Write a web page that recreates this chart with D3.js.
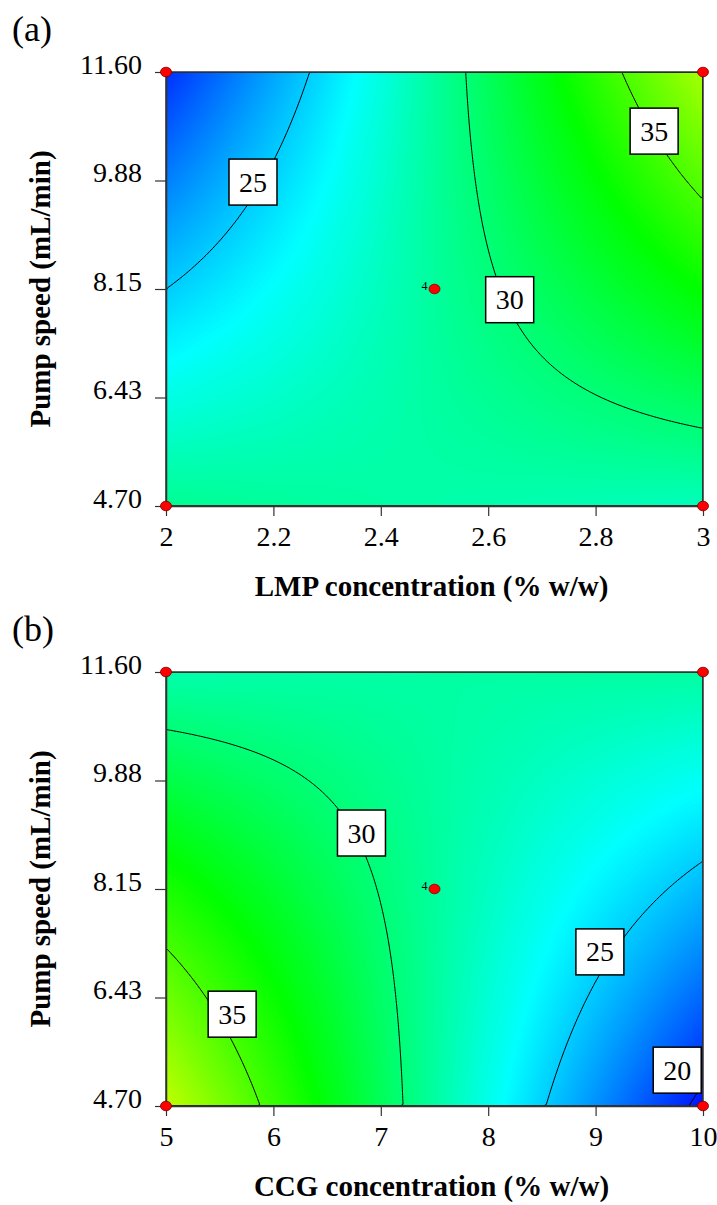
<!DOCTYPE html>
<html>
<head>
<meta charset="utf-8">
<script src="https://cdn.jsdelivr.net/npm/d3@7"></script>
<style>
  body { margin: 0; background: #fff; }
  text { font-family: "Liberation Serif", "Times New Roman", serif; fill: #000; }
</style>
</head>
<body>
<div id="chart"></div>
<script>
// Factor levels (low, centre, high)
const lmpLevels = [2, 2.5, 3];
const ccgLevels = [5, 7.5, 10];
const pumpLevels = [4.70, 8.15, 11.60];

// Predicted response at the factor levels
// rows = pump speed low -> high, columns = concentration low -> high
const responseA = [
  [29.3, 28.7, 28.2],
  [25.0, 29.0, 33.1],
  [20.4, 29.0, 37.6]
];
const responseB = [
  [38.3, 28.9, 19.5],
  [33.7, 29.0, 24.4],
  [28.6, 28.8, 28.9]
];

// Ticks
const lmpTicks = [2, 2.2, 2.4, 2.6, 2.8, 3];
const ccgTicks = [5, 6, 7, 8, 9, 10];
const pumpTicks = [4.70, 6.425, 8.15, 9.875, 11.60];
const pumpTickLabels = ["4.70", "6.43", "8.15", "9.88", "11.60"];

// Contour levels and label spots (concentration, pump speed)
const contourLevels = [20, 25, 30, 35];
const labelsA = [
  { level: 25, x: 2.162, y: 9.85 },
  { level: 30, x: 2.64, y: 7.98 },
  { level: 35, x: 2.909, y: 10.66 }
];
const labelsB = [
  { level: 30, x: 6.82, y: 9.04 },
  { level: 35, x: 5.616, y: 6.16 },
  { level: 25, x: 9.04, y: 7.15 },
  { level: 20, x: 9.76, y: 5.27 }
];
const centreReplicates = 4;

const svg = d3.select("#chart").append("svg")
    .attr("width", 717)
    .attr("height", 1205);

const color = d3.scaleLinear()
    .domain([19, 26.5, 33, 40])
    .range(["#0000ff", "#00ffff", "#00ff00", "#ffff00"])
    .clamp(true);

function drawPanel(opt) {
  const left = 166, right = 703, top = opt.top, bottom = opt.top + 434;
  const xLevels = opt.xLevels, grid = opt.grid;

  const x = d3.scaleLinear().domain([xLevels[0], xLevels[2]]).range([left, right]);
  const y = d3.scaleLinear().domain([pumpLevels[0], pumpLevels[2]]).range([bottom, top]);

  // quadratic through the three levels in each direction
  const lag = t => [t * (t - 1) / 2, 1 - t * t, t * (t + 1) / 2];
  const coded = (v, lv) => (v - lv[1]) / (lv[2] - lv[1]);
  const surface = (xv, yv) => {
    const a = lag(coded(xv, xLevels)), b = lag(coded(yv, pumpLevels));
    let s = 0;
    for (let j = 0; j < 3; j++)
      for (let i = 0; i < 3; i++) s += b[j] * a[i] * grid[j][i];
    return s;
  };

  const nx = 180, ny = 146;
  const gx = d3.scaleLinear().domain([0, nx]).range(x.domain());
  const gy = d3.scaleLinear().domain([0, ny]).range([pumpLevels[2], pumpLevels[0]]);
  const values = new Array(nx * ny);
  for (let j = 0; j < ny; j++)
    for (let i = 0; i < nx; i++)
      values[j * nx + i] = surface(gx(i + 0.5), gy(j + 0.5));

  const path = d3.geoPath(d3.geoTransform({
    point(px, py) { this.stream.point(x(gx(px)), y(gy(py))); }
  }));

  const clipId = "clip" + opt.top;
  svg.append("clipPath").attr("id", clipId)
    .append("rect")
      .attr("x", left).attr("y", top)
      .attr("width", right - left).attr("height", bottom - top);

  const g = svg.append("g").attr("clip-path", `url(#${clipId})`);

  // colour bands
  const bands = d3.contours().size([nx, ny]).thresholds(d3.range(18, 40, 0.1))(values);
  g.selectAll("path.band")
    .data(bands)
    .join("path")
      .attr("class", "band")
      .attr("d", path)
      .attr("fill", d => color(d.value + 0.05));

  // contour lines
  const lines = d3.contours().size([nx, ny]).thresholds(contourLevels)(values);
  g.selectAll("path.line")
    .data(lines)
    .join("path")
      .attr("class", "line")
      .attr("d", path)
      .attr("fill", "none")
      .attr("stroke", "#000")
      .attr("stroke-width", 1);

  // frame
  svg.append("rect")
      .attr("x", left).attr("y", top)
      .attr("width", right - left).attr("height", bottom - top)
      .attr("fill", "none")
      .attr("stroke", "#333")
      .attr("stroke-width", 1.5);

  // axes
  const xAxis = svg.append("g")
      .attr("transform", `translate(0,${bottom})`)
      .call(d3.axisBottom(x).tickValues(opt.xTicks).tickFormat(d3.format("")).tickSize(10).tickSizeOuter(0).tickPadding(10));
  const yAxis = svg.append("g")
      .attr("transform", `translate(${left},0)`)
      .call(d3.axisLeft(y).tickValues(pumpTicks).tickFormat((d, i) => pumpTickLabels[i]).tickSize(11).tickSizeOuter(0).tickPadding(13));
  [xAxis, yAxis].forEach(a => {
    a.select(".domain").attr("stroke", "#333").attr("stroke-width", 1.5);
    a.selectAll(".tick line").attr("stroke", "#333").attr("stroke-width", 1.2);
    a.selectAll(".tick text")
        .attr("font-family", '"Liberation Serif", serif')
        .attr("font-size", 28)
        .attr("fill", "#000");
  });
  yAxis.selectAll(".tick text").attr("dy", "0.04em");

  // axis titles
  svg.append("text")
      .attr("x", (left + right) / 2 - 3)
      .attr("y", bottom + 90)
      .attr("text-anchor", "middle")
      .attr("font-size", 29)
      .attr("font-weight", "bold")
      .text(opt.xTitle);
  svg.append("text")
      .attr("transform", `translate(50,${(top + bottom) / 2}) rotate(-90)`)
      .attr("text-anchor", "middle")
      .attr("font-size", 29)
      .attr("font-weight", "bold")
      .text("Pump speed (mL/min)");

  // panel letter
  svg.append("text")
      .attr("x", 12)
      .attr("y", top - 31)
      .attr("font-size", 36)
      .text(opt.letter);

  // contour labels
  const lab = svg.append("g").selectAll("g")
    .data(opt.labels)
    .join("g")
      .attr("transform", d => `translate(${x(d.x)},${y(d.y)})`);
  lab.append("rect")
      .attr("x", -24).attr("y", -23)
      .attr("width", 48).attr("height", 46)
      .attr("fill", "#fff")
      .attr("stroke", "#000")
      .attr("stroke-width", 1.5);
  lab.append("text")
      .attr("text-anchor", "middle")
      .attr("dy", "0.34em")
      .attr("font-size", 28)
      .text(d => d.level);

  // design points: corners and centre
  const pts = [
    [xLevels[0], pumpLevels[0]], [xLevels[2], pumpLevels[0]],
    [xLevels[0], pumpLevels[2]], [xLevels[2], pumpLevels[2]],
    [xLevels[1], pumpLevels[1]]
  ];
  svg.append("g").selectAll("ellipse")
    .data(pts)
    .join("ellipse")
      .attr("cx", d => x(d[0]))
      .attr("cy", d => y(d[1]))
      .attr("rx", 5.5).attr("ry", 4.8)
      .attr("fill", "#ff0000")
      .attr("stroke", "#7a0000")
      .attr("stroke-width", 0.8);
  svg.append("text")
      .attr("x", x(xLevels[1]) - 7)
      .attr("y", y(pumpLevels[1]) + 1)
      .attr("text-anchor", "end")
      .attr("font-size", 12)
      .text(centreReplicates);
}

drawPanel({
  top: 72, xLevels: lmpLevels, grid: responseA, xTicks: lmpTicks,
  xTitle: "LMP concentration (% w/w)", letter: "(a)", labels: labelsA
});
drawPanel({
  top: 672, xLevels: ccgLevels, grid: responseB, xTicks: ccgTicks,
  xTitle: "CCG concentration (% w/w)", letter: "(b)", labels: labelsB
});
</script>
</body>
</html>
